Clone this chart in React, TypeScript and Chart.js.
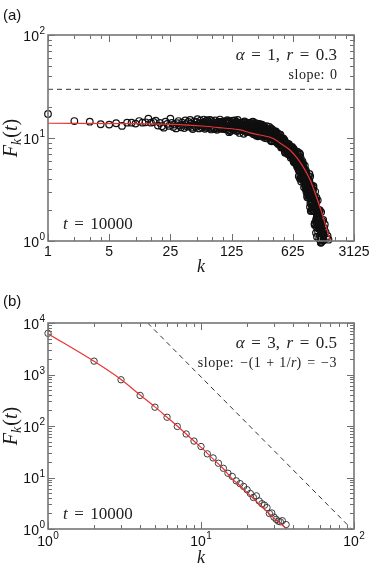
import React, { useEffect, useRef } from "react";
import { Chart, registerables } from "chart.js";
Chart.register(...registerables);

// ---------------- Panel (a) data: k, F_k(t) ----------------
const A_FLAT: [number, number][] = [
  [1, 17.1], [2, 14.6], [3, 14.4], [4, 13.6], [5, 13.5], [6, 13.9], [7, 13.1], [8, 14.1], [9, 14.1],
  [10, 13.8], [11, 14.6], [12, 14.1], [13, 14.2], [14, 15.4], [15, 14.1], [16, 14.3], [17, 14.7],
];
const A_SHOULDER: [number, number][] = [
  [18, 13.2], [19, 14.0], [20, 13.0], [21, 12.6], [22, 14.4], [23, 13.7], [24, 13.1], [25, 15.4], [26, 14.0],
  [27, 12.8], [28, 13.5], [29, 12.4], [30, 13.9], [31, 14.6], [32, 13.2], [33, 12.7], [34, 14.1], [35, 13.4],
  [36, 12.5], [37, 14.8], [38, 13.6], [39, 12.9], [40, 14.3], [41, 13.0], [42, 15.0], [43, 13.8], [44, 12.6],
  [45, 12.2], [46, 13.5], [47, 14.5], [48, 13.1], [49, 12.8], [50, 14.2], [51, 15.2], [52, 13.6], [53, 12.4],
  [54, 13.9], [55, 14.7], [56, 13.3], [57, 12.7], [58, 14.0], [59, 13.2], [60, 15.1],
];
const A_PLATEAU: [number, number][] = [
  [61, 13.9], [62, 12.3], [63, 14.5], [64, 12.6], [65, 13.1], [66, 14.9], [67, 14.3], [68, 12.7], [69, 13.2],
  [70, 13.8], [71, 15.0], [72, 12.5], [73, 12.1], [74, 14.6], [75, 13.5], [76, 12.9], [77, 14.2], [78, 13.6],
  [79, 12.6], [80, 12.2], [81, 14.8], [82, 14.1], [83, 13.2], [84, 13.5], [85, 12.0], [86, 12.4], [87, 14.0],
  [88, 12.9], [89, 14.4], [90, 13.4], [91, 12.8], [92, 15.1], [93, 13.9], [94, 12.4], [95, 12.3], [96, 14.0],
  [97, 13.7], [98, 13.1], [99, 14.5], [100, 14.2], [101, 13.0], [102, 12.2], [103, 12.4], [104, 13.0],
  [105, 12.5], [106, 14.0], [107, 14.6], [108, 13.3], [109, 12.1], [110, 12.8], [111, 14.4], [112, 14.9],
  [113, 13.9], [114, 12.7], [115, 14.6], [116, 11.9], [117, 11.4], [118, 12.9], [119, 14.3], [120, 13.1],
  [121, 11.6], [122, 13.1], [123, 13.4], [124, 12.4], [125, 12.5], [126, 13.6], [127, 13.5], [128, 14.7],
  [129, 12.0], [130, 12.5], [131, 13.4], [132, 13.5], [133, 14.6], [134, 12.0], [135, 13.9], [136, 14.8],
  [137, 13.8], [138, 12.8], [139, 12.3], [140, 12.9], [141, 14.4], [142, 13.2], [143, 11.7], [144, 12.6],
  [145, 12.5], [146, 14.0], [147, 15.0], [148, 13.2], [149, 13.8], [150, 13.4], [151, 11.8], [152, 12.7],
  [153, 12.9], [154, 11.2], [155, 14.1], [156, 13.0], [157, 12.7], [158, 12.9], [159, 12.4], [160, 11.9],
  [161, 12.8], [162, 13.6], [163, 13.1], [164, 14.0], [165, 12.5], [166, 12.2], [167, 13.4], [168, 13.2],
  [169, 11.9], [170, 14.2], [171, 12.6], [172, 11.0], [173, 13.0], [174, 12.7], [175, 12.3], [176, 14.5],
  [177, 14.2], [178, 13.3], [179, 12.8], [180, 13.0], [181, 13.3], [182, 11.7], [183, 12.2], [184, 12.9],
  [185, 11.4], [186, 13.9], [187, 12.9], [188, 11.9], [189, 12.5], [190, 12.4], [191, 13.1], [192, 13.7],
  [193, 13.3], [194, 13.8], [195, 13.0], [196, 12.4], [197, 12.5], [198, 12.8], [199, 11.9],
];
const A_KNEE: [number, number][] = [
  [200, 13.1], [201, 11.6], [203, 14.1], [204, 12.2], [205, 13.3], [206, 12.3], [207, 11.3], [208, 12.7],
  [209, 11.7], [211, 13.1], [212, 12.3], [213, 12.3], [214, 13.7], [215, 12.0], [216, 13.1], [217, 14.2],
  [219, 14.4], [220, 11.9], [221, 12.5], [223, 10.9], [224, 12.4], [225, 13.5], [226, 11.0], [227, 12.5],
  [228, 12.6], [229, 13.4], [231, 13.3], [232, 11.9], [233, 11.4], [234, 13.9], [235, 11.3], [236, 12.7],
  [237, 13.8], [238, 10.6], [239, 12.6], [240, 11.8], [241, 11.7], [242, 10.9], [243, 11.3], [244, 13.8],
  [245, 12.3], [246, 12.7], [248, 11.9], [249, 10.4], [250, 12.7], [251, 12.7], [252, 11.5], [253, 12.8],
  [254, 12.1], [255, 12.05], [256, 11.5], [257, 12.2], [258, 11.3], [259, 11.6], [260, 13.7], [261, 12.5],
  [262, 11.4], [263, 13.2], [264, 12.3], [265, 11.5], [266, 11.4], [267, 12.0], [268, 10.6], [269, 11.7],
  [270, 10.7], [271, 13.2], [272, 12.4], [273, 12.1], [274, 11.3], [275, 12.5], [276, 11.8], [277, 12.0],
  [278, 13.5], [279, 11.4], [281, 13.2], [282, 12.2], [283, 10.6], [284, 10.3], [285, 12.1], [286, 11.5],
  [287, 11.2], [288, 11.6], [289, 11.8], [290, 12.9], [291, 11.4], [292, 11.9], [293, 13.0], [294, 12.2],
  [296, 10.4], [297, 11.0], [299, 10.4], [300, 11.5], [301, 10.0], [302, 11.7], [303, 10.6], [304, 12.0],
  [305, 11.1], [307, 11.6], [308, 11.9], [310, 10.8], [311, 11.7], [313, 11.7], [314, 10.9], [315, 12.1],
  [316, 13.0], [317, 11.4], [319, 10.6], [320, 11.1], [322, 9.9], [323, 11.8], [325, 12.2], [326, 10.6],
  [327, 11.1], [328, 11.3], [329, 11.2], [331, 10.5], [332, 11.4], [334, 12.0], [335, 10.8], [337, 10.1],
  [338, 12.8], [339, 11.5], [340, 10.2], [342, 11.4], [343, 11.6], [345, 10.6], [346, 10.7], [348, 11.1],
  [349, 12.2], [350, 10.7], [351, 9.4], [352, 12.3], [354, 11.4], [355, 10.6], [357, 10.3], [359, 9.3],
  [361, 10.75], [362, 12.2], [363, 10.9], [364, 10.9], [365, 11.3], [367, 10.3], [369, 9.4], [370, 11.0],
  [372, 10.0], [374, 10.9], [376, 10.6], [377, 10.0], [378, 10.1], [379, 11.6], [381, 10.6], [383, 11.3],
  [385, 10.2], [386, 9.3], [388, 10.9], [390, 11.0], [391, 9.8], [392, 11.6], [393, 10.5], [395, 10.25],
  [397, 9.6], [398, 10.4], [400, 11.6], [402, 9.85], [404, 11.4], [405, 9.2], [407, 9.2], [409, 10.5],
  [411, 9.7], [412, 10.3], [414, 9.9], [416, 9.55], [418, 8.9], [420, 10.4], [421, 11.0], [423, 9.95],
  [425, 10.3], [427, 9.6], [429, 8.7], [431, 10.2], [433, 10.9], [434, 9.2], [436, 10.0], [438, 9.3],
  [440, 9.2], [442, 9.55], [444, 9.0], [446, 9.7], [448, 10.8], [450, 9.1], [452, 10.7], [453, 10.2],
  [456, 8.4], [458, 9.7], [460, 8.1], [462, 9.5], [464, 8.3], [466, 8.8], [468, 9.1], [470, 8.1],
  [472, 9.5], [474, 9.1], [476, 9.6], [478, 8.8], [480, 9.2], [482, 9.3], [485, 8.1], [487, 9.9],
  [489, 8.6], [491, 8.3], [493, 8.4], [495, 8.65], [497, 9.5], [499, 8.8], [502, 9.6], [504, 8.2],
  [506, 7.5], [507, 7.9], [510, 7.2], [512, 8.7], [515, 7.3], [517, 8.5], [519, 8.7], [521, 7.9],
  [523, 8.4], [525, 8.2], [528, 7.6], [530, 8.2], [532, 8.9], [535, 7.9], [537, 8.8], [539, 8.4],
  [541, 7.5], [545, 7.5], [546, 7.0], [549, 7.5], [551, 8.6], [553, 7.8], [555, 8.0], [558, 7.9],
  [560, 7.3], [563, 7.4], [565, 8.7], [567, 8.4], [570, 6.9], [572, 7.85], [575, 6.8], [578, 7.45],
];
const A_DROP: [number, number][] = [
  [585, 8.15], [588, 7.36], [590, 7.7], [592, 6.44], [594, 6.95], [596, 6.71], [598, 7.73], [600, 7.46],
  [603, 8.07], [605, 7.18], [607, 6.71], [609, 7.31], [611, 7.96], [613, 6.65], [615, 8.18], [618, 6.4],
  [620, 6.86], [622, 6.89], [624, 7.52], [626, 6.75], [628, 7.89], [630, 7.52], [632, 6.42], [634, 7.22],
  [636, 7.19], [638, 5.9], [640, 6.48], [642, 7.82], [645, 5.9], [646, 7.06], [648, 6.69], [650, 5.77],
  [652, 6.81], [654, 6.0], [656, 6.43], [658, 5.78], [660, 7.03], [662, 7.41], [663, 6.49], [665, 6.03],
  [667, 7.0], [669, 6.75], [671, 6.1], [673, 6.08], [676, 6.67], [678, 6.32], [680, 6.4], [681, 6.93],
  [683, 6.42], [685, 6.04], [687, 6.07], [689, 5.54], [691, 6.64], [694, 5.75], [696, 5.68], [698, 6.5],
  [700, 5.26], [703, 7.38], [705, 6.26], [707, 5.68], [709, 5.44], [712, 6.93], [714, 5.83], [716, 7.05],
  [718, 6.12], [721, 5.13], [723, 5.95], [726, 4.93], [728, 5.41], [731, 4.26], [733, 6.31], [735, 5.56],
  [738, 5.22], [740, 5.64], [742, 4.82], [745, 7.14], [747, 5.86], [750, 5.51], [752, 4.91], [755, 4.02],
  [758, 6.92], [760, 4.31], [762, 5.2], [765, 6.08], [767, 5.35], [770, 6.37], [772, 4.86], [775, 4.04],
  [778, 3.78], [780, 5.86], [783, 5.58], [786, 5.18], [788, 4.3], [791, 4.09], [793, 5.22], [796, 4.27],
  [799, 5.42], [801, 4.57], [803, 4.31], [807, 5.94], [809, 4.61], [812, 5.11], [815, 4.74], [818, 4.39],
  [821, 3.91], [823, 5.57], [826, 4.25], [829, 5.04], [831, 4.95], [834, 4.23], [837, 3.8], [840, 3.33],
  [843, 4.73], [846, 3.67], [849, 4.54], [852, 4.52], [854, 3.8], [857, 5.4], [860, 4.07], [863, 3.42],
  [866, 3.58], [869, 4.21], [872, 4.12], [875, 4.89], [878, 3.73], [881, 3.18], [884, 4.34], [887, 3.51],
  [890, 4.72], [893, 3.01], [896, 3.16], [899, 3.84], [902, 4.11], [905, 3.92], [908, 3.24], [911, 2.77],
  [914, 2.66], [918, 4.09], [921, 3.5], [924, 4.02], [927, 3.64], [930, 3.07], [933, 3.21], [936, 3.13],
  [940, 3.33], [943, 2.95], [946, 3.87], [949, 4.22], [952, 2.73], [956, 3.85], [959, 3.54], [962, 2.62],
  [966, 3.88], [969, 4.47], [972, 2.74], [975, 3.04], [978, 3.02], [982, 2.14], [985, 3.13], [988, 4.25],
  [992, 2.33], [995, 2.88], [998, 2.71], [1002, 1.96], [1005, 3.32], [1009, 2.79], [1012, 2.34],
  [1016, 3.41], [1020, 2.9], [1023, 3.48], [1026, 2.98], [1030, 1.96], [1033, 2.34], [1037, 2.15],
  [1040, 2.57], [1044, 2.74], [1048, 2.35], [1051, 2.0], [1055, 2.62], [1058, 2.13], [1062, 2.3],
  [1065, 3.13], [1069, 2.82], [1073, 3.3], [1077, 3.4], [1080, 2.61], [1084, 1.96], [1088, 2.2],
  [1092, 2.53], [1095, 2.09], [1099, 1.99], [1103, 2.7], [1107, 1.44], [1110, 1.49], [1114, 2.14],
  [1118, 1.46], [1122, 2.21], [1125, 3.02], [1129, 1.93], [1133, 2.31], [1138, 2.48], [1141, 2.46],
  [1145, 2.38], [1149, 1.53], [1153, 1.61], [1157, 1.38], [1161, 2.15], [1165, 2.63], [1170, 1.51],
  [1173, 1.7], [1177, 1.61], [1181, 1.6], [1185, 1.79], [1189, 2.01], [1193, 1.87], [1197, 1.82],
  [1202, 2.03], [1205, 2.48], [1210, 1.58], [1214, 1.24], [1218, 1.98], [1222, 1.38], [1226, 1.33],
  [1231, 1.87], [1235, 1.33], [1239, 1.32], [1243, 1.74], [1248, 1.4], [1252, 1.32], [1256, 1.9],
  [1261, 1.46], [1265, 1.94], [1270, 1.99], [1273, 1.48], [1278, 1.49], [1283, 1.12], [1287, 1.28],
  [1291, 1.01], [1296, 1.61], [1300, 1.32], [1305, 0.97], [1309, 0.96], [1314, 1.06], [1318, 1.91],
  [1323, 1.41], [1327, 1.28], [1332, 1.07], [1336, 1.02], [1342, 1.18], [1345, 1.5], [1350, 1.16],
  [1355, 1.47], [1360, 1.2], [1364, 1.56], [1369, 1.04], [1374, 1.05], [1382, 1.03], [1387, 1.27],
  [1396, 1.01], [1400, 1.15],
];
const A_TAIL: [number, number][] = [
  [1150, 1.2], [1180, 1.1], [1250, 1.05], [1320, 0.98], [1390, 1.6], [1410, 1.25], [1430, 1.34],
  [1450, 1.45], [1480, 1.22], [1520, 1.07], [1560, 1.12], [1600, 1.03],
];
const A_FIT: [number, number][] = [
  [1, 13.9], [10, 13.8], [32, 13.5], [63, 13.0], [100, 12.5], [156, 12.0], [204, 11.2], [264, 10.7],
  [374, 9.9], [450, 8.9], [580, 7.64], [708, 6.3], [800, 5.42], [900, 4.56], [1000, 3.8], [1100, 3.06],
  [1200, 2.49], [1300, 2.03], [1400, 1.67], [1500, 1.37], [1600, 1.15], [1680, 1.0],
];
const A_GUIDE: [number, number][] = [[1, 29.7], [3125, 29.7]];
const A_X_MAJOR = [1, 5, 25, 125, 625, 3125];
const A_X_MINOR = [2, 3, 4, 10, 15, 20, 50, 75, 100, 250, 375, 500, 1250, 1875, 2500];
const A_Y_MAJOR = [1, 10, 100];
const A_Y_MINOR = [2, 3, 4, 5, 6, 7, 8, 9, 20, 30, 40, 50, 60, 70, 80, 90];

// ---------------- Panel (b) data ----------------
const B_POINTS: [number, number][] = [
  [1, 6300], [2, 1820], [3, 790], [4, 392], [5, 232], [6, 148], [7, 98], [8, 70], [9, 51], [10, 40],
  [11, 28.8], [12, 24], [13, 18.9], [14, 15.1], [15, 12.1], [16, 10.5], [17, 8.6], [18, 7.6], [19, 6.7],
  [20, 5.8], [21, 4.9], [22, 4.1], [23, 4.4], [24, 3.5], [25, 3.1], [26, 2.9], [27, 2.6], [28, 2.0],
  [29, 2.05], [30, 1.7], [31, 1.54], [32, 1.42], [33, 1.38], [34, 1.45], [36, 1.22],
];
const B_FIT: [number, number][] = [
  [1, 6200], [2, 1800], [3, 800], [4, 400], [5, 235], [6, 148], [7, 100], [8, 70], [9, 51], [10, 38.5],
  [12, 23], [14, 14.8], [16, 9.4], [18, 6.9], [20, 5.1], [22, 3.9], [25, 2.7], [28, 1.95], [31, 1.5],
  [34, 1.18], [36.5, 1.0],
];
const B_GUIDE: [number, number][] = [[4.48, 10000], [96.5, 1]];
const B_X_MAJOR = [1, 10, 100];
const B_X_MINOR = [2, 3, 4, 5, 6, 7, 8, 9, 20, 30, 40, 50, 60, 70, 80, 90];
const B_Y_MAJOR = [1, 10, 100, 1000, 10000];
const B_Y_MINOR = [
  2, 3, 4, 5, 6, 7, 8, 9, 20, 30, 40, 50, 60, 70, 80, 90, 200, 300, 400, 500, 600, 700, 800, 900,
  2000, 3000, 4000, 5000, 6000, 7000, 8000, 9000,
];

// ---------------- helpers ----------------
const SERIF = '"Liberation Serif", "Times New Roman", serif';
const SANS = '"Liberation Sans", Arial, Helvetica, sans-serif';
const it = (s: number) => `italic ${s}px ${SERIF}`;
const rm = (s: number) => `${s}px ${SERIF}`;
const RED = "rgb(232, 52, 52)";

type Seg = { t?: string; f?: string; g?: number; dy?: number; ls?: number };

function segW(ctx: any, s: Seg) {
  if (s.g != null) return s.g;
  ctx.font = s.f;
  ctx.letterSpacing = (s.ls || 0) + "px";
  return ctx.measureText(s.t).width;
}
function drawRich(ctx: any, segs: Seg[], x: number, y: number, align: string) {
  const ws = segs.map((s) => segW(ctx, s));
  const total = ws.reduce((a, b) => a + b, 0);
  let cx = align === "right" ? x - total : align === "center" ? x - total / 2 : x;
  ctx.textAlign = "left";
  ctx.textBaseline = "alphabetic";
  segs.forEach((s, i) => {
    if (s.t) {
      ctx.font = s.f;
      ctx.letterSpacing = (s.ls || 0) + "px";
      ctx.fillText(s.t, cx, y + (s.dy || 0));
    }
    cx += ws[i];
  });
  ctx.letterSpacing = "0px";
}
function drawPow(ctx: any, v: number, x: number, baseY: number, expY: number, align: string) {
  const e = String(Math.round(Math.log10(v)));
  ctx.font = `14px ${SANS}`;
  const w1 = ctx.measureText("10").width;
  ctx.font = `10px ${SANS}`;
  const w2 = ctx.measureText(e).width;
  const tot = w1 + w2 + 0.5;
  const left = align === "right" ? x - tot : x - tot / 2;
  ctx.textAlign = "left";
  ctx.textBaseline = "alphabetic";
  ctx.font = `14px ${SANS}`;
  ctx.fillText("10", left, baseY);
  ctx.font = `10px ${SANS}`;
  ctx.fillText(e, left + w1 + 0.5, expY);
}

type Panel = {
  tag: string;
  top: number;
  height: number;
  xMin: number; xMax: number; yMin: number; yMax: number;
  xMajor: number[]; xMinor: number[]; yMajor: number[]; yMinor: number[];
  xPow: boolean;
  points: [number, number][];
  fit: [number, number][];
  guide: [number, number][];
  pointColor: string;
  pointRadius: number;
  pointWidth: number;
  params: Seg[];
  slope: Seg[];
  tagBase: number;
  paramBase: number;
  slopeBase: number;
  tBase: number;
  kBase: number;
};

function framePlugin(p: Panel) {
  return {
    id: "frame" + p.tag,
    afterDraw(chart: any) {
      const ctx = chart.ctx;
      const a = chart.chartArea;
      const xs = chart.scales.x;
      const ys = chart.scales.y;
      ctx.save();
      ctx.strokeStyle = "#6e6e6e";
      ctx.lineWidth = 1;
      const vt = (v: number, len: number) => {
        const px = Math.round(xs.getPixelForValue(v)) + 0.5;
        ctx.beginPath();
        ctx.moveTo(px, a.bottom);
        ctx.lineTo(px, a.bottom - len);
        ctx.moveTo(px, a.top);
        ctx.lineTo(px, a.top + len);
        ctx.stroke();
      };
      const ht = (v: number, len: number) => {
        const py = Math.round(ys.getPixelForValue(v)) + 0.5;
        ctx.beginPath();
        ctx.moveTo(a.left, py);
        ctx.lineTo(a.left + len, py);
        ctx.moveTo(a.right, py);
        ctx.lineTo(a.right - len, py);
        ctx.stroke();
      };
      p.xMinor.forEach((v) => vt(v, 4));
      p.xMajor.forEach((v) => vt(v, 7));
      p.yMinor.forEach((v) => ht(v, 4));
      p.yMajor.forEach((v) => ht(v, 7));
      ctx.lineWidth = 1.6;
      ctx.strokeStyle = "#767676";
      ctx.strokeRect(a.left, a.top, a.right - a.left, a.bottom - a.top);

      // tick labels
      ctx.fillStyle = "#111";
      p.yMajor.forEach((v) => {
        const py = ys.getPixelForValue(v);
        drawPow(ctx, v, a.left - 3, py + 5.5, py - 1, "right");
      });
      p.xMajor.forEach((v) => {
        const px = xs.getPixelForValue(v);
        if (p.xPow) {
          drawPow(ctx, v, px, a.bottom + 17, a.bottom + 9.5, "center");
        } else {
          ctx.font = `14px ${SANS}`;
          ctx.textAlign = "center";
          ctx.textBaseline = "alphabetic";
          ctx.fillText(String(v), px, a.bottom + 14.5);
        }
      });

      // panel tag
      ctx.font = `15px ${SANS}`;
      ctx.textAlign = "left";
      ctx.textBaseline = "alphabetic";
      ctx.fillText(p.tag, 3, p.tagBase);

      // axis titles
      ctx.fillStyle = "#1a1a1a";
      drawRich(ctx, [{ t: "k", f: it(18) }], (a.left + a.right) / 2, p.kBase, "center");
      ctx.save();
      ctx.translate(17, (a.top + a.bottom) / 2);
      ctx.rotate(-Math.PI / 2);
      drawRich(
        ctx,
        [
          { t: "F", f: it(20) },
          { t: "k", f: it(14), dy: 4 },
          { g: 1 },
          { t: "(", f: rm(20) },
          { t: "t", f: it(20) },
          { t: ")", f: rm(20) },
        ],
        0,
        0,
        "center"
      );
      ctx.restore();

      // annotations
      ctx.fillStyle = "#222";
      drawRich(ctx, p.params, 337, p.paramBase, "right");
      drawRich(ctx, p.slope, 337, p.slopeBase, "right");
      drawRich(
        ctx,
        [{ t: "t", f: it(17) }, { g: 6.5 }, { t: "=", f: rm(17) }, { g: 6.5 }, { t: "10000", f: rm(17) }],
        63,
        p.tBase,
        "left"
      );
      ctx.restore();
    },
  };
}

function makeConfig(p: Panel): any {
  const pts = p.points.map(([x, y]) => ({ x, y }));
  return {
    type: "scatter",
    data: {
      datasets: [
        {
          data: p.fit.map(([x, y]) => ({ x, y })),
          showLine: true,
          borderColor: RED,
          borderWidth: 1.2,
          pointRadius: 0,
          cubicInterpolationMode: "monotone",
        },
        {
          data: p.guide.map(([x, y]) => ({ x, y })),
          showLine: true,
          borderColor: "#333",
          borderWidth: 1,
          borderDash: [5, 4],
          pointRadius: 0,
        },
        {
          data: pts,
          showLine: false,
          pointRadius: p.pointRadius,
          pointBorderWidth: p.pointWidth,
          pointBorderColor: p.pointColor,
          pointBackgroundColor: "rgba(0,0,0,0)",
          borderColor: p.pointColor,
          backgroundColor: "rgba(0,0,0,0)",
          clip: false,
        },
      ],
    },
    options: {
      responsive: false,
      maintainAspectRatio: false,
      animation: false,
      devicePixelRatio: 1,
      events: [],
      layout: { padding: { left: 48, right: 20, top: p.top, bottom: p.height - p.top - 206 } },
      plugins: { legend: { display: false }, tooltip: { enabled: false } },
      scales: {
        x: { type: "logarithmic", display: false, min: p.xMin, max: p.xMax, bounds: "data" },
        y: { type: "logarithmic", display: false, min: p.yMin, max: p.yMax, bounds: "data" },
      },
    },
    plugins: [framePlugin(p)],
  };
}

const PANEL_A: Panel = {
  tag: "(a)",
  top: 35,
  height: 280,
  xMin: 1, xMax: 3125, yMin: 1, yMax: 100,
  xMajor: A_X_MAJOR, xMinor: A_X_MINOR, yMajor: A_Y_MAJOR, yMinor: A_Y_MINOR,
  xPow: false,
  points: [...A_FLAT, ...A_SHOULDER, ...A_PLATEAU, ...A_KNEE, ...A_DROP, ...A_TAIL],
  fit: A_FIT,
  guide: A_GUIDE,
  pointColor: "#101010",
  pointRadius: 3.3,
  pointWidth: 1.2,
  params: [
    { t: "α", f: it(17) }, { g: 6.5 }, { t: "=", f: rm(17) }, { g: 6.5 }, { t: "1,", f: rm(17) }, { g: 6.5 },
    { t: "r", f: it(17) }, { g: 6.5 }, { t: "=", f: rm(17) }, { g: 6.5 }, { t: "0.3", f: rm(17) },
  ],
  slope: [{ t: "slope:", f: rm(14), ls: 0.5 }, { g: 5 }, { t: "0", f: rm(14) }],
  tagBase: 20,
  paramBase: 60,
  slopeBase: 79,
  tBase: 229,
  kBase: 272,
};

const PANEL_B: Panel = {
  tag: "(b)",
  top: 43,
  height: 287,
  xMin: 1, xMax: 100, yMin: 1, yMax: 10000,
  xMajor: B_X_MAJOR, xMinor: B_X_MINOR, yMajor: B_Y_MAJOR, yMinor: B_Y_MINOR,
  xPow: true,
  points: B_POINTS,
  fit: B_FIT,
  guide: B_GUIDE,
  pointColor: "#3a3a3a",
  pointRadius: 3.2,
  pointWidth: 1,
  params: [
    { t: "α", f: it(17) }, { g: 6.5 }, { t: "=", f: rm(17) }, { g: 6.5 }, { t: "3,", f: rm(17) }, { g: 6.5 },
    { t: "r", f: it(17) }, { g: 6.5 }, { t: "=", f: rm(17) }, { g: 6.5 }, { t: "0.5", f: rm(17) },
  ],
  slope: [
    { t: "slope:", f: rm(14), ls: 0.5 }, { g: 6 }, { t: "−(1", f: rm(14), ls: 0.5 }, { g: 5 },
    { t: "+", f: rm(14) }, { g: 5 }, { t: "1/", f: rm(14), ls: 0.5 }, { t: "r", f: it(14) },
    { t: ")", f: rm(14) }, { g: 6 }, { t: "=", f: rm(14) }, { g: 6 }, { t: "−3", f: rm(14), ls: 0.5 },
  ],
  tagBase: 26,
  paramBase: 68,
  slopeBase: 87,
  tBase: 239,
  kBase: 283,
};

export default function App() {
  const refA = useRef<HTMLCanvasElement>(null);
  const refB = useRef<HTMLCanvasElement>(null);
  useEffect(() => {
    const ca = new Chart(refA.current as HTMLCanvasElement, makeConfig(PANEL_A));
    const cb = new Chart(refB.current as HTMLCanvasElement, makeConfig(PANEL_B));
    return () => {
      ca.destroy();
      cb.destroy();
    };
  }, []);
  return (
    <div style={{ position: "absolute", left: 0, top: 0, width: 374, height: 567, background: "#fff" }}>
      <canvas
        ref={refA}
        width={374}
        height={280}
        style={{ position: "absolute", left: 0, top: 0, width: 374, height: 280 }}
      />
      <canvas
        ref={refB}
        width={374}
        height={287}
        style={{ position: "absolute", left: 0, top: 280, width: 374, height: 287 }}
      />
    </div>
  );
}
